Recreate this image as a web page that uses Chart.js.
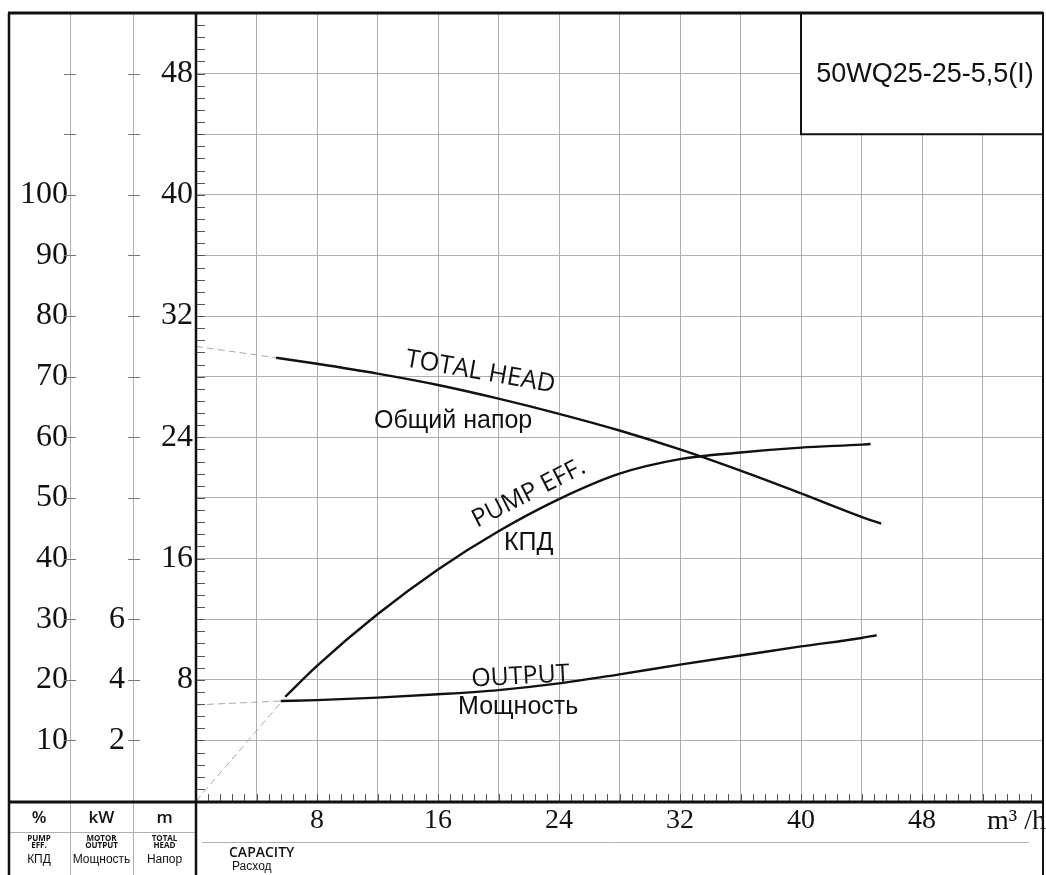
<!DOCTYPE html>
<html>
<head>
<meta charset="utf-8">
<script src="https://cdn.jsdelivr.net/npm/chart.js@4.4.0/dist/chart.umd.min.js"></script>
<style>
  html, body { margin: 0; padding: 0; background: #fff; }
  #wrap { width: 1046px; height: 875px; }
</style>
</head>
<body>
<div id="wrap"><canvas id="pumpChart" width="1046" height="875"></canvas></div>
<script>
// capacity in m3/h, head in m, efficiency in %, motor output in kW
var flowHead = [5.3, 8, 12, 16, 20, 24, 28, 32, 36, 40, 44, 45.3];
var headValues = [29.25, 28.85, 28.2, 27.45, 26.55, 25.55, 24.45, 23.2, 21.8, 20.3, 18.75, 18.3];
var flowHeadDash = [0, 5.3];
var headDash = [30, 29.25];

var flowEff = [5.9, 8, 12, 16, 20, 24, 28, 32, 36, 40, 44, 44.6];
var effValues = [17.2, 22.3, 30.8, 38.2, 44.5, 49.8, 54.0, 56.4, 57.5, 58.3, 58.8, 58.9];
var flowEffDash = [0, 5.7];
var effDash = [0, 16.5];

var flowPower = [5.6, 8, 12, 16, 20, 24, 28, 32, 36, 40, 44, 45];
var powerValues = [3.3, 3.33, 3.41, 3.52, 3.66, 3.88, 4.18, 4.5, 4.8, 5.1, 5.38, 5.47];
var flowPowerDash = [0, 5.6];
var powerDash = [3.17, 3.3];

// tick labels that are printed
var flowTicks = [8, 16, 24, 32, 40, 48];
var headTicks = [8, 16, 24, 32, 40, 48];
var effTicks = [10, 20, 30, 40, 50, 60, 70, 80, 90, 100];
var kwTicks = [2, 4, 6];

var modelName = '50WQ25-25-5,5(I)';

var curveLabels = [
    { text: 'TOTAL HEAD', q: 18.8, h: 28.3, angle: 10, font: '25.5px "Open Sans"' },
    { text: 'Общий напор', q: 17.0, h: 25.1, angle: 0, font: '25px "Liberation Sans"' },
    { text: 'PUMP EFF.', q: 22.0, h: 20.3, angle: -27, font: '25px "Open Sans"' },
    { text: 'КПД', q: 22.0, h: 17.0, angle: 0, font: '25px "Liberation Sans"' },
    { text: 'OUTPUT', q: 21.45, h: 8.2, angle: -3, font: '25px "Open Sans"' },
    { text: 'Мощность', q: 21.3, h: 6.2, angle: 0, font: '25px "Liberation Sans"' }
];

function pts(xs, ys) {
    return xs.map(function (x, i) { return { x: x, y: ys[i] }; });
}

function fixSize(size, horizontal) {
    return function (s) {
        if (horizontal) { s.height = size; } else { s.width = size; }
        s.paddingTop = 0;
        s.paddingBottom = 0;
        s.paddingLeft = 0;
        s.paddingRight = 0;
    };
}

var serif = '"Liberation Serif", "DejaVu Serif", serif';
var gridColor = '#aeaeae';

var framePlugin = {
    id: 'frame',
    afterDraw: function (chart) {
        var ctx = chart.ctx;
        var area = chart.chartArea;
        var xs = chart.scales.x, ys = chart.scales.y, es = chart.scales.eff, ks = chart.scales.kw;
        var H = chart.height;
        var left0 = es.left;
        var i, x, y;

        ctx.save();

        // minor ticks (every 0.8)
        ctx.strokeStyle = '#555';
        ctx.lineWidth = 1;
        ctx.beginPath();
        for (i = 1; i * 0.8 < ys.max - 0.01; i++) {
            y = Math.round(ys.getPixelForValue(i * 0.8)) + 0.5;
            ctx.moveTo(area.left, y);
            ctx.lineTo(area.left + 9, y);
        }
        for (i = 1; i * 0.8 < xs.max - 0.01; i++) {
            x = Math.round(xs.getPixelForValue(i * 0.8)) + 0.5;
            ctx.moveTo(x, area.bottom);
            ctx.lineTo(x, area.bottom - 7);
        }
        ctx.stroke();

        // column lines
        ctx.strokeStyle = '#b0b0b0';
        ctx.beginPath();
        ctx.moveTo(Math.round(es.right) + 0.5, area.top);
        ctx.lineTo(Math.round(es.right) + 0.5, H);
        ctx.moveTo(Math.round(ks.right) + 0.5, area.top);
        ctx.lineTo(Math.round(ks.right) + 0.5, H);
        ctx.moveTo(left0, 832.5);
        ctx.lineTo(area.left, 832.5);
        ctx.moveTo(area.left + 6, 842.5);
        ctx.lineTo(area.right - 14, 842.5);
        ctx.stroke();

        // side ticks on the % and kW columns
        ctx.strokeStyle = '#777';
        ctx.beginPath();
        for (var v = 10; v <= 120; v += 10) {
            y = Math.round(es.getPixelForValue(v)) + 0.5;
            ctx.moveTo(es.right - 6, y);
            ctx.lineTo(es.right + 6, y);
        }
        for (v = 2; v <= 24; v += 2) {
            y = Math.round(ks.getPixelForValue(v)) + 0.5;
            ctx.moveTo(ks.right - 5, y);
            ctx.lineTo(ks.right + 7, y);
        }
        ctx.stroke();

        // model box
        var bx = xs.getPixelForValue(40);
        var by = ys.getPixelForValue(44);
        ctx.fillStyle = '#fff';
        ctx.fillRect(bx, area.top, area.right - bx, by - area.top);
        ctx.strokeStyle = '#111';
        ctx.lineWidth = 2;
        ctx.strokeRect(bx, area.top, area.right - bx, by - area.top);
        ctx.fillStyle = '#111';
        ctx.font = '27px "Liberation Sans", Arial, sans-serif';
        ctx.textAlign = 'center';
        ctx.textBaseline = 'middle';
        ctx.fillText(modelName, (bx + area.right) / 2 + 3, (area.top + by) / 2 + 1);

        // frame
        ctx.strokeStyle = '#111';
        ctx.lineWidth = 3;
        ctx.beginPath();
        ctx.moveTo(left0, area.top);
        ctx.lineTo(area.right, area.top);
        ctx.moveTo(left0, area.bottom + 1);
        ctx.lineTo(area.right, area.bottom + 1);
        ctx.stroke();
        ctx.lineWidth = 2.5;
        ctx.beginPath();
        ctx.moveTo(left0 + 1, area.top);
        ctx.lineTo(left0 + 1, H);
        ctx.moveTo(area.left, area.top);
        ctx.lineTo(area.left, H);
        ctx.stroke();
        ctx.lineWidth = 2;
        ctx.beginPath();
        ctx.moveTo(area.right, area.top);
        ctx.lineTo(area.right, H);
        ctx.stroke();

        // curve captions
        curveLabels.forEach(function (lb) {
            ctx.save();
            ctx.translate(xs.getPixelForValue(lb.q), ys.getPixelForValue(lb.h));
            ctx.rotate(lb.angle * Math.PI / 180);
            ctx.font = lb.font;
            ctx.fillStyle = '#111';
            ctx.textAlign = 'center';
            ctx.textBaseline = 'middle';
            ctx.fillText(lb.text, 0, 0);
            ctx.restore();
        });

        // unit of capacity
        ctx.font = '28px ' + serif;
        ctx.textAlign = 'left';
        ctx.textBaseline = 'middle';
        ctx.fillText('m³ /h', 987, 822);

        ctx.font = '600 14px "Open Sans", sans-serif';
        ctx.fillText('CAPACITY', 229, 853);
        ctx.font = '12px "Liberation Sans", Arial, sans-serif';
        ctx.fillText('Расход', 232, 867);

        // bottom-left table
        var cols = [
            { c: (es.left + es.right) / 2, unit: '%', en: ['PUMP', 'EFF.'], ru: 'КПД' },
            { c: (ks.left + ks.right) / 2, unit: 'kW', en: ['MOTOR', 'OUTPUT'], ru: 'Мощность' },
            { c: (ys.left + ys.right) / 2, unit: 'm', en: ['TOTAL', 'HEAD'], ru: 'Напор' }
        ];
        ctx.textAlign = 'center';
        cols.forEach(function (col) {
            ctx.font = '600 17px "Open Sans", sans-serif';
            ctx.fillText(col.unit, col.c, 818);
            ctx.font = '700 8px "Open Sans", sans-serif';
            ctx.fillText(col.en[0], col.c, 839);
            ctx.fillText(col.en[1], col.c, 846);
            ctx.font = '12px "Liberation Sans", Arial, sans-serif';
            ctx.fillText(col.ru, col.c, 860);
        });

        ctx.restore();
    }
};

var ctx = document.getElementById('pumpChart').getContext('2d');
var pumpChart = new Chart(ctx, {
    type: 'line',
    data: {
        datasets: [
            {
                label: 'Head',
                data: pts(flowHead, headValues),
                yAxisID: 'y',
                borderColor: '#111',
                borderWidth: 2.4,
                cubicInterpolationMode: 'monotone'
            },
            {
                label: 'Head ext',
                data: pts(flowHeadDash, headDash),
                yAxisID: 'y',
                borderColor: '#aaa',
                borderWidth: 1,
                borderDash: [7, 4]
            },
            {
                label: 'Efficiency',
                data: pts(flowEff, effValues),
                yAxisID: 'eff',
                borderColor: '#111',
                borderWidth: 2.4,
                cubicInterpolationMode: 'monotone'
            },
            {
                label: 'Efficiency ext',
                data: pts(flowEffDash, effDash),
                yAxisID: 'eff',
                borderColor: '#aaa',
                borderWidth: 1,
                borderDash: [7, 4]
            },
            {
                label: 'Output',
                data: pts(flowPower, powerValues),
                yAxisID: 'kw',
                borderColor: '#111',
                borderWidth: 2.4,
                cubicInterpolationMode: 'monotone'
            },
            {
                label: 'Output ext',
                data: pts(flowPowerDash, powerDash),
                yAxisID: 'kw',
                borderColor: '#aaa',
                borderWidth: 1,
                borderDash: [7, 4]
            }
        ]
    },
    options: {
        responsive: false,
        animation: false,
        events: [],
        elements: { point: { radius: 0 } },
        layout: { padding: { left: 8, top: 13, right: 3, bottom: 0 } },
        plugins: { legend: { display: false }, tooltip: { enabled: false } },
        scales: {
            x: {
                type: 'linear',
                position: 'bottom',
                min: 0,
                max: 56,
                afterFit: fixSize(74, true),
                border: { display: false },
                grid: { color: gridColor, drawTicks: false },
                ticks: {
                    stepSize: 4,
                    autoSkip: false,
                    maxRotation: 0,
                    padding: 3,
                    color: '#111',
                    font: { family: serif, size: 28 },
                    callback: function (v) { return flowTicks.indexOf(v) >= 0 ? String(v) : ''; }
                }
            },
            eff: {
                type: 'linear',
                position: 'left',
                weight: 3,
                min: 0,
                max: 130,
                afterFit: fixSize(62, false),
                border: { display: false },
                grid: { display: false, drawTicks: false },
                ticks: {
                    stepSize: 10,
                    autoSkip: false,
                    padding: 2,
                    color: '#111',
                    font: { family: serif, size: 32 },
                    callback: function (v) { return effTicks.indexOf(v) >= 0 ? String(v) : ''; }
                }
            },
            kw: {
                type: 'linear',
                position: 'left',
                weight: 2,
                min: 0,
                max: 26,
                afterFit: fixSize(63, false),
                border: { display: false },
                grid: { display: false, drawTicks: false },
                ticks: {
                    stepSize: 2,
                    autoSkip: false,
                    padding: 8,
                    color: '#111',
                    font: { family: serif, size: 32 },
                    callback: function (v) { return kwTicks.indexOf(v) >= 0 ? String(v) : ''; }
                }
            },
            y: {
                type: 'linear',
                position: 'left',
                weight: 1,
                min: 0,
                max: 52,
                afterFit: fixSize(63, false),
                border: { display: false },
                grid: { color: gridColor, drawTicks: false },
                ticks: {
                    stepSize: 4,
                    autoSkip: false,
                    padding: 3,
                    color: '#111',
                    font: { family: serif, size: 32 },
                    callback: function (v) { return headTicks.indexOf(v) >= 0 ? String(v) : ''; }
                }
            }
        }
    },
    plugins: [framePlugin]
});
</script>
</body>
</html>
